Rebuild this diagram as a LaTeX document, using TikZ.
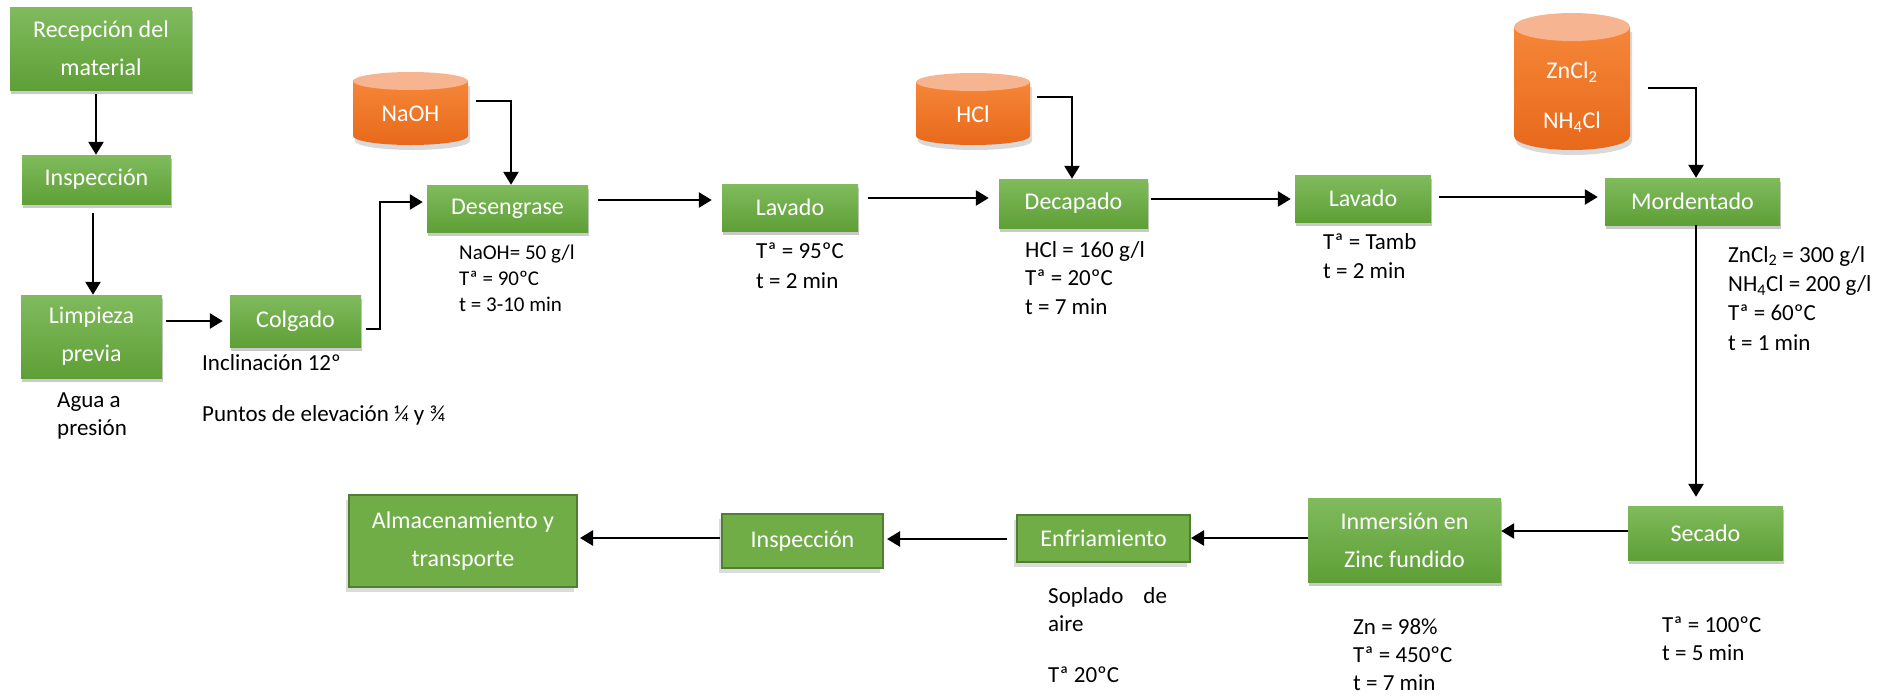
\documentclass[tikz,border=0pt]{standalone}
\usepackage{fontspec}
\setmainfont{Carlito}
\usetikzlibrary{arrows.meta,shadows,calc}
\definecolor{gtop}{HTML}{80BB5D}
\definecolor{gbot}{HTML}{5E9F36}
\definecolor{gflat}{HTML}{70AD47}
\definecolor{gedge}{HTML}{507E32}
\definecolor{otop}{HTML}{F6B590}
\definecolor{obodya}{HTML}{F58638}
\definecolor{obodyb}{HTML}{E8691B}
\newcommand\drawtank[5]{%
  \fill[black,opacity=0.15] ({#1+2},{#2+#5+5}) -- ({#1+2},{#4-#5+5}) arc[start angle=180,end angle=0,x radius={(#3-#1)/2},y radius=#5] -- ({#3+2},{#2+#5+5}) -- cycle;
  \shade[top color=obodya,bottom color=obodyb] (#1,{#2+#5}) -- (#1,{#4-#5}) arc[start angle=180,end angle=0,x radius={(#3-#1)/2},y radius=#5] -- (#3,{#2+#5}) -- cycle;
  \fill[otop] ({(#1+#3)/2},{#2+#5}) ellipse[x radius={(#3-#1)/2},y radius=#5];
}
\tikzset{
  boxfont/.style={font=\fontsize{24}{38}\selectfont},
  box/.style={rectangle, inner sep=0pt, top color=gtop, bottom color=gbot, text=white, boxfont, align=center,
    drop shadow={shadow xshift=1pt, shadow yshift=-4pt, opacity=0.3, fill=black!70}},
  flatbox/.style={rectangle, inner sep=0pt, fill=gflat, draw=gedge, line width=2pt, text=white, boxfont, align=center,
    drop shadow={shadow xshift=-3pt, shadow yshift=-5pt, opacity=0.2, fill=black!70}},
  tank/.style={rectangle, inner sep=0pt, text=white, boxfont, align=center},
  note/.style={anchor=base west, align=left, inner sep=0pt, font=\fontsize{23}{29}\selectfont},
  arr/.style={line width=2.5pt, -{Triangle[length=13pt,width=15pt]}}
}
\begin{document}
\begin{tikzpicture}[x=1pt,y=-1pt]
\useasboundingbox (0,0) rectangle (1899,697);
% tanks
\drawtank{353}{72}{468}{145}{9}
\drawtank{916}{73}{1030}{145}{9}
\drawtank{1514}{13}{1630}{150}{14}
\node[tank, minimum width=115pt, minimum height=63pt] (naoh) at (410.5,113.5) {NaOH};
\node[tank, minimum width=114pt, minimum height=62pt] (hcl) at (973,114) {HCl};
\node[tank, minimum width=116pt, minimum height=105pt, font=\fontsize{24}{50}\selectfont] (zn) at (1572,97.5) {ZnCl\textsubscript{2}\\NH\textsubscript{4}Cl};
% process boxes
\node[box, minimum width=182pt, minimum height=83pt] (rec) at (101,48.5) {Recepción del\\material};
\node[box, minimum width=149pt, minimum height=49pt] (insp1) at (96.5,179.5) {Inspección};
\node[box, minimum width=141pt, minimum height=83pt] (limp) at (91.5,336.5) {Limpieza\\previa};
\node[box, minimum width=131pt, minimum height=52pt] (colg) at (295.5,321) {Colgado};
\node[box, minimum width=161pt, minimum height=47pt] (des) at (507.5,208.5) {Desengrase};
\node[box, minimum width=136pt, minimum height=47pt] (lav1) at (790,207.5) {Lavado};
\node[box, minimum width=149pt, minimum height=49pt] (dec) at (1073.5,203.5) {Decapado};
\node[box, minimum width=136pt, minimum height=47pt] (lav2) at (1363,198.5) {Lavado};
\node[box, minimum width=175pt, minimum height=47pt] (mord) at (1692.5,201.5) {Mordentado};
\node[box, minimum width=155pt, minimum height=54pt] (sec) at (1705.5,533) {Secado};
\node[box, minimum width=193pt, minimum height=84pt] (inm) at (1404.5,540) {Inmersión en\\Zinc fundido};
\node[flatbox, minimum width=173pt, minimum height=47pt] (enf) at (1103.5,538.5) {Enfriamiento};
\node[flatbox, minimum width=161pt, minimum height=54pt] (insp2) at (802.5,541) {Inspección};
\node[flatbox, minimum width=228pt, minimum height=92pt] (alm) at (463,541) {Almacenamiento y\\transporte};
% notes (anchored at the baseline of their last line)
\node[note, font=\fontsize{23}{28}\selectfont] (nagua) at (57,435) {Agua a\\presión};
\node[note, font=\fontsize{23}{51}\selectfont] (ncolg) at (202,421) {Inclinación 12º\\Puntos de elevación ¼ y ¾};
\node[note, font=\fontsize{21}{26}\selectfont] (ndes) at (459,311) {NaOH= 50 g/l\\Tª = 90ºC\\t = 3-10 min};
\node[note, font=\fontsize{23}{30}\selectfont] (nlav1) at (756,288) {Tª = 95ºC\\t = 2 min};
\node[note, font=\fontsize{23}{28.5}\selectfont] (ndec) at (1025,314) {HCl = 160 g/l\\Tª = 20ºC\\t = 7 min};
\node[note] (nlav2) at (1323,278) {Tª = Tamb\\t = 2 min};
\node[note, font=\fontsize{23}{29.3}\selectfont] (nmord) at (1728,350) {ZnCl\textsubscript{2} = 300 g/l\\NH\textsubscript{4}Cl = 200 g/l\\Tª = 60ºC\\t = 1 min};
\node[note, font=\fontsize{23}{28}\selectfont] (nsec) at (1662,660) {Tª = 100ºC\\t = 5 min};
\node[note, font=\fontsize{23}{28}\selectfont] (ninm) at (1353,690) {Zn = 98\%\\Tª = 450ºC\\t = 7 min};
\node[note, font=\fontsize{23}{28}\selectfont] (nenf) at (1048,682) {Soplado\hspace{20pt}de\\aire\\[23pt]Tª 20ºC};
% connectors
\draw[arr] ([shift={(-5,4)}]rec.south) coordinate (s1) -- (s1 |- insp1.north);
\draw[arr] ([shift={(-3.5,9)}]insp1.south) coordinate (s2) -- (s2 |- limp.north);
\draw[arr, shorten >=7pt] ([xshift=4pt]limp.east |- colg.west) -- (colg.west);
\draw[arr, shorten >=4pt] ([shift={(5,8)}]colg.east) -- ++(14,0) |- ([yshift=6.5pt]des.west);
\draw[arr] ([shift={(8,-12.5)}]naoh.east) -| ([xshift=3.5pt]des.north);
\draw[arr, shorten >=10pt] ([shift={(10,-8.5)}]des.east) -- ([shift={(0,-7.5)}]lav1.west);
\draw[arr, shorten >=10pt] ([shift={(10,-9.5)}]lav1.east) -- ([shift={(0,-5.5)}]dec.west);
\draw[arr] ([shift={(7,-17)}]hcl.east) -| ([xshift=-1.5pt]dec.north);
\draw[arr, shorten >=4pt] ([shift={(3,-4.5)}]dec.east) -- ([shift={(0,0.5)}]lav2.west);
\draw[arr, shorten >=7pt] ([shift={(8,-1.5)}]lav2.east) -- ([shift={(0,-4.5)}]mord.west);
\draw[arr] ([shift={(18,-9.5)}]zn.east) -| ([xshift=3.5pt]mord.north);
\draw[arr, shorten >=9pt] ([xshift=3.5pt]mord.south) coordinate (s12) -- (s12 |- sec.north);
\draw[arr] ([shift={(0,-2)}]sec.west) -- ([shift={(0,-9)}]inm.east);
\draw[arr] ([shift={(0,-2)}]inm.west) -- ([shift={(0,-0.5)}]enf.east);
\draw[arr, shorten >=3pt] ([shift={(-9,0.5)}]enf.west) -- ([shift={(0,-2)}]insp2.east);
\draw[arr, shorten >=2pt] ([shift={(-1,-3)}]insp2.west) -- ([shift={(0,-3)}]alm.east);
\end{tikzpicture}
\end{document}
